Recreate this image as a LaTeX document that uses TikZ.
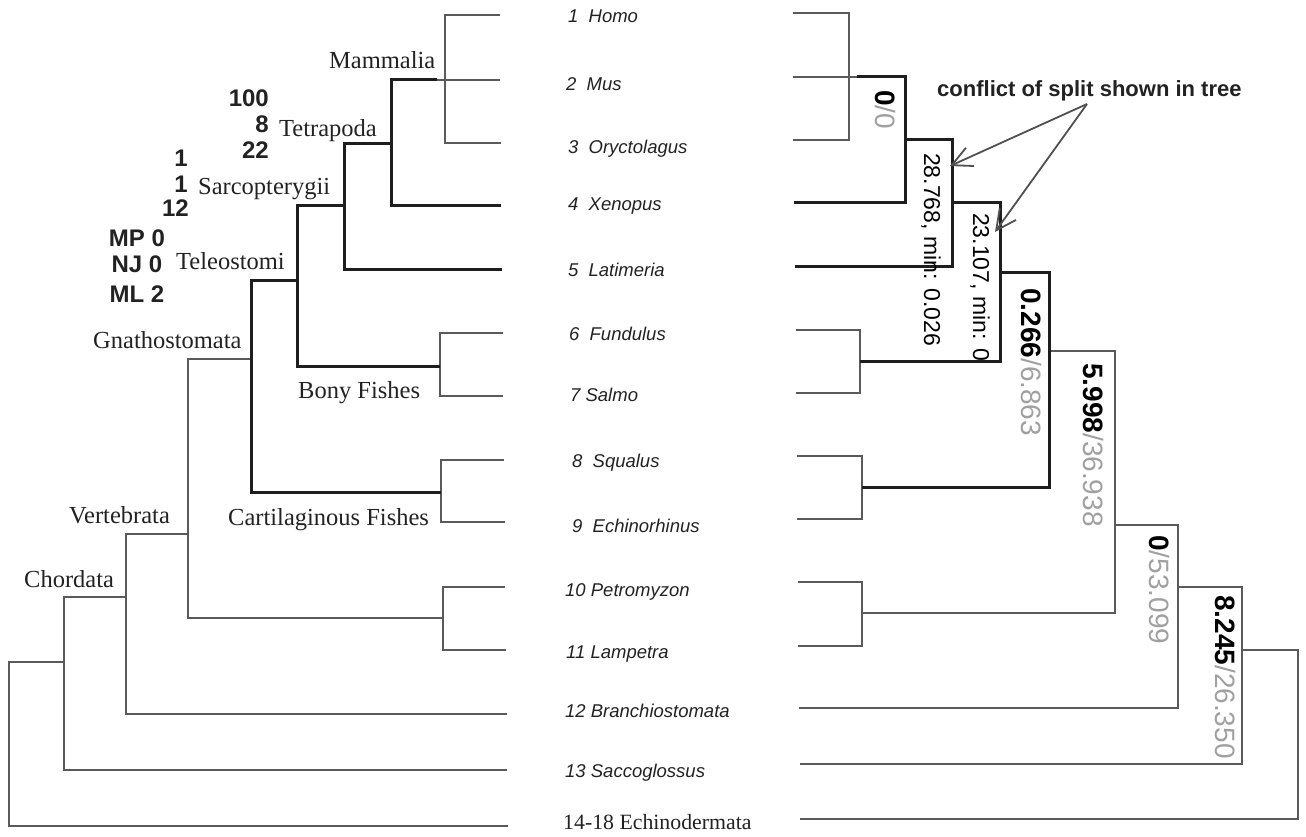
\documentclass[tikz,border=0pt]{standalone}
\usepackage{fontspec}
\setmainfont{Liberation Serif}
\newfontfamily\hsans{Liberation Sans}
\usetikzlibrary{arrows.meta}
\definecolor{cthin}{HTML}{5A5A5A}
\definecolor{cthk}{HTML}{1E1E1E}
\definecolor{lg}{HTML}{A0A0A0}
\definecolor{txt}{HTML}{222222}
\definecolor{carr}{HTML}{505050}
\begin{document}
\begin{tikzpicture}[x=1pt,y=-1pt,
  thinb/.style={draw=cthin,line width=1.1pt},
  thickb/.style={draw=cthk,line width=3pt},
  lblserif/.style={inner sep=0pt,anchor=base west,text=txt,font=\fontsize{24.5}{28}\selectfont},
  lblnum/.style={inner sep=0pt,text=txt,font=\hsans\bfseries\fontsize{24}{28}\selectfont},
  taxon/.style={inner sep=0pt,anchor=base west,text=txt,font=\hsans\itshape\fontsize{18.5}{22}\selectfont},
  vallbl/.style={inner sep=0pt,rotate=-90,anchor=west,text=black,font=\hsans\fontsize{28}{32}\selectfont},
  minlbl/.style={inner sep=0pt,rotate=-90,anchor=west,text=black,font=\hsans\fontsize{23}{26}\selectfont},
  arrline/.style={draw=carr,line width=1.8pt,-{Straight Barb[length=20pt,width=20pt,line width=1.8pt]}},
]
\useasboundingbox (0,0) rectangle (1306,837);

% ---------------- left tree: leaves ----------------
\coordinate (l1) at (500,15);
\coordinate (l2) at (500,80);
\coordinate (l3) at (501,143);
\coordinate (l4) at (501,206);
\coordinate (l5) at (502,269);
\coordinate (l6) at (503,333);
\coordinate (l7) at (503,396);
\coordinate (l8) at (504,460);
\coordinate (l9) at (505,522);
\coordinate (l10) at (505,587);
\coordinate (l11) at (506,650);
\coordinate (l12) at (507,714);
\coordinate (l13) at (507,770);
\coordinate (l14) at (508,826);
% internal nodes
\coordinate (mam) at (445,80);
\coordinate (mamt) at (437,80);
\coordinate (tet) at (391,144);
\coordinate (sar) at (344,206);
\coordinate (tel) at (297,280);
\coordinate (bony) at (440,366);
\coordinate (gna) at (251,359);
\coordinate (cart) at (441,492);
\coordinate (n188) at (188,534);
\coordinate (lamp) at (443,618);
\coordinate (n126) at (126,597);
\coordinate (n64) at (64,662);
\coordinate (root) at (9,745);

\draw[thinb] (mam) |- (l1);
\draw[thinb] (mam) |- (l2);
\draw[thinb] (mam) |- (l3);
\draw[thinb] (mamt) -- (mam);
\draw[thinb] (bony) |- (l6);
\draw[thinb] (bony) |- (l7);
\draw[thinb] (cart) |- (l8);
\draw[thinb] (cart) |- (l9);
\draw[thinb] (lamp) |- (l10);
\draw[thinb] (lamp) |- (l11);
\draw[thinb] (n188) |- (gna);
\draw[thinb] (n188) |- (lamp);
\draw[thinb] (n126) |- (n188);
\draw[thinb] (n126) |- (l12);
\draw[thinb] (n64) |- (n126);
\draw[thinb] (n64) |- (l13);
\draw[thinb] (root) |- (n64);
\draw[thinb] (root) |- (l14);
\draw[thickb] (tet) |- (mamt);
\draw[thickb] (tet) |- (l4);
\draw[thickb] (sar) |- (tet);
\draw[thickb] (sar) |- (l5);
\draw[thickb] (tel) |- (sar);
\draw[thickb] (tel) |- (bony);
\draw[thickb] (gna) |- (tel);
\draw[thickb] (gna) |- (cart);

% clade labels
\node[lblserif] (tMam) at (329,69) {Mammalia};
\node[lblserif] (tTet) at (279,137) {Tetrapoda};
\node[lblserif] (tSar) at (198,195) {Sarcopterygii};
\node[lblserif] (tTel) at (176,269) {Teleostomi};
\node[lblserif] (tGna) at (93,348) {Gnathostomata};
\node[lblserif] (tBony) at (298,398) {Bony Fishes};
\node[lblserif] (tCart) at (228,525) {Cartilaginous Fishes};
\node[lblserif] (tVer) at (69,523) {Vertebrata};
\node[lblserif] (tCho) at (24,587) {Chordata};

% support numbers
\node[lblnum,anchor=base east] (s1) at (269,107) {100};
\node[lblnum,anchor=base east] (s2) at (269,133) {8};
\node[lblnum,anchor=base east] (s3) at (269,159) {22};
\node[lblnum,anchor=base east] (s4) at (188,167) {1};
\node[lblnum,anchor=base east] (s5) at (188,193) {1};
\node[lblnum,anchor=base east] (s6) at (189,217) {12};
\node[lblnum,anchor=base] (s7) at (137,246) {MP 0};
\node[lblnum,anchor=base] (s8) at (137,272) {NJ 0};
\node[lblnum,anchor=base] (s9) at (137,302) {ML 2};

% ---------------- taxon names ----------------
\node[taxon] (t1) at (568,23) {1\hspace{0.55em}Homo};
\node[taxon] (t2) at (566,91) {2\hspace{0.55em}Mus};
\node[taxon] (t3) at (568,154) {3\hspace{0.55em}Oryctolagus};
\node[taxon] (t4) at (568,211) {4\hspace{0.55em}Xenopus};
\node[taxon] (t5) at (568,276) {5\hspace{0.55em}Latimeria};
\node[taxon] (t6) at (569,340) {6\hspace{0.55em}Fundulus};
\node[taxon] (t7) at (570,401) {7 Salmo};
\node[taxon] (t8) at (572,467) {8\hspace{0.55em}Squalus};
\node[taxon] (t9) at (572,532) {9\hspace{0.55em}Echinorhinus};
\node[taxon] (t10) at (565,596) {10 Petromyzon};
\node[taxon] (t11) at (566,658) {11 Lampetra};
\node[taxon] (t12) at (565,717) {12 Branchiostomata};
\node[taxon] (t13) at (565,777) {13 Saccoglossus};
\node[inner sep=0pt,anchor=base west,text=txt,font=\fontsize{21.8}{25}\selectfont] (t14) at (563,829) {14-18 Echinodermata};

% ---------------- right tree: leaves ----------------
\coordinate (r1) at (793,13);
\coordinate (r2) at (793,77);
\coordinate (r3) at (793,140);
\coordinate (r4) at (794,203);
\coordinate (r5) at (795,266);
\coordinate (r6) at (796,330);
\coordinate (r7) at (796,393);
\coordinate (r8) at (797,456);
\coordinate (r9) at (797,519);
\coordinate (r10) at (798,582);
\coordinate (r11) at (798,646);
\coordinate (r12) at (799,708);
\coordinate (r13) at (800,764);
\coordinate (r14) at (800,819);
% internal nodes
\coordinate (rmam) at (849,77);
\coordinate (rmamt) at (857,77);
\coordinate (rA) at (905,140);
\coordinate (rB) at (952,203);
\coordinate (rC) at (1000,272);
\coordinate (rfish) at (860,361);
\coordinate (rD) at (1049,351);
\coordinate (rshark) at (862,487);
\coordinate (rE) at (1115,525);
\coordinate (rlamp) at (862,613);
\coordinate (rF) at (1178,587);
\coordinate (rG) at (1242,650);
\coordinate (rH) at (1298,735);

\draw[thinb] (rmam) |- (r1);
\draw[thinb] (rmam) |- (r2);
\draw[thinb] (rmam) |- (r3);
\draw[thinb] (rmam) -- (rmamt);
\draw[thinb] (rfish) |- (r6);
\draw[thinb] (rfish) |- (r7);
\draw[thinb] (rshark) |- (r8);
\draw[thinb] (rshark) |- (r9);
\draw[thinb] (rlamp) |- (r10);
\draw[thinb] (rlamp) |- (r11);
\draw[thinb] (rE) |- (rD);
\draw[thinb] (rE) |- (rlamp);
\draw[thinb] (rF) |- (rE);
\draw[thinb] (rF) |- (r12);
\draw[thinb] (rG) |- (rF);
\draw[thinb] (rG) |- (r13);
\draw[thinb] (rH) |- (rG);
\draw[thinb] (rH) |- (r14);
\draw[thickb] (rA) |- (rmamt);
\draw[thickb] (rA) |- (r4);
\draw[thickb] (rB) |- (rA);
\draw[thickb] (rB) |- (r5);
\draw[thickb] (rC) |- (rB);
\draw[thickb] (rC) |- (rfish);
\draw[thickb] (rD) |- (rC);
\draw[thickb] (rD) |- (rshark);

% split values
\node[vallbl] (v1) at (885,90) {\textbf{0}\textcolor{lg}{/0}};
\node[minlbl] (v2) at (931,153) {28.768, min: 0.026};
\node[minlbl] (v3) at (980,213) {23.107, min: 0};
\node[vallbl] (v4) at (1031,288) {\textbf{0.266}\textcolor{lg}{/6.863}};
\node[vallbl] (v5) at (1093,363) {\textbf{5.998}\textcolor{lg}{/36.938}};
\node[vallbl] (v6) at (1159,535) {\textbf{0}\textcolor{lg}{/53.099}};
\node[vallbl] (v7) at (1225,595) {\textbf{8.245}\textcolor{lg}{/26.350}};

% conflict annotation
\node[inner sep=0pt,anchor=base west,text=txt,font=\hsans\bfseries\fontsize{22}{26}\selectfont] (conf) at (937,97) {conflict of split shown in tree};
\coordinate (apex) at (1087,104);
\coordinate (hit1) at (950,166);
\coordinate (hit2) at (995,232);
\draw[arrline] (apex) -- (hit1);
\draw[arrline] (apex) -- (hit2);
\end{tikzpicture}
\end{document}
